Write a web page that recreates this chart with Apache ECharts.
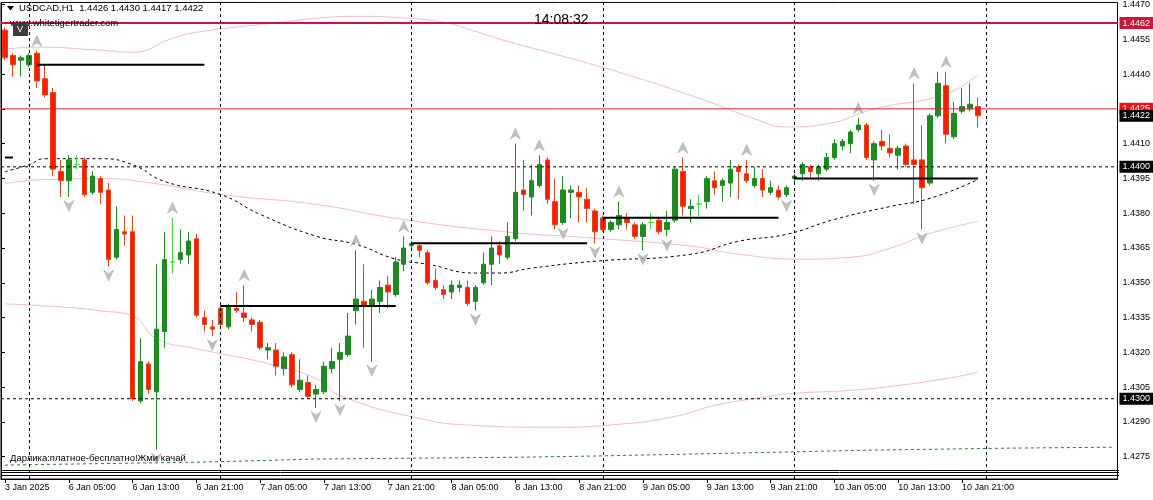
<!DOCTYPE html>
<html><head><meta charset="utf-8">
<script src="https://cdn.jsdelivr.net/npm/echarts@6/dist/echarts.min.js"></script>
<style>html,body{margin:0;padding:0;background:#fff;}#c{width:1153px;height:500px;}</style>
</head><body><div id="c"></div>
<script>
// ---- data (USDCAD H1, from 3 Jan 21:00 to 10 Jan 23:00) ----
const opens = [1.4459,1.4448,1.4446,1.4444,1.4449,1.4438,1.4432,1.4398,1.4394,1.4401,
1.4403,1.4389,1.4395,1.4390,1.4361,1.4372,1.4372,1.4299,1.4315,1.4303,
1.4329,1.4359,1.4360,1.4362,1.4369,1.4335,1.4331,1.4339,1.4331,1.4339,
1.4337,1.4334,1.4333,1.4321,1.4321,1.4313,1.4319,1.4304,1.4307,1.4302,
1.4303,1.4313,1.4317,1.4319,1.4338,1.4342,1.4340,1.4342,1.4349,1.4345,
1.4358,1.4366,1.4366,1.4363,1.4351,1.4347,1.4346,1.4348,1.4348,1.4342,
1.4350,1.4358,1.4366,1.4361,1.4369,1.4390,1.4387,1.4392,1.4403,1.4385,
1.4376,1.4389,1.4389,1.4386,1.4381,1.4378,1.4373,1.4375,1.4378,1.4375,
1.4370,1.4376,1.4377,1.4373,1.4377,1.4398,1.4382,1.4384,1.4385,1.4394,
1.4392,1.4393,1.4400,1.4397,1.4392,1.4395,1.4389,1.4390,1.4388,1.4395,
1.4397,1.4400,1.4397,1.4399,1.4404,1.4409,1.4410,1.4416,1.4418,1.4403,
1.4411,1.4408,1.4405,1.4409,1.4403,1.4403,1.4393,1.4422,1.4435,1.4413,
1.4424,1.4425,1.4426];
const highs = [1.4460,1.4449,1.4448,1.4449,1.4450,1.4444,1.4434,1.4403,1.4405,1.4405,
1.4404,1.4398,1.4396,1.4393,1.4383,1.4379,1.4379,1.4326,1.4316,1.4358,
1.4372,1.4378,1.4373,1.4372,1.4371,1.4338,1.4334,1.4340,1.4341,1.4346,
1.4349,1.4335,1.4334,1.4324,1.4324,1.4320,1.4320,1.4317,1.4310,1.4306,
1.4316,1.4322,1.4324,1.4337,1.4364,1.4358,1.4347,1.4351,1.4353,1.4361,
1.4370,1.4368,1.4367,1.4364,1.4356,1.4349,1.4351,1.4351,1.4351,1.4349,
1.4363,1.4370,1.4368,1.4376,1.4410,1.4403,1.4401,1.4405,1.4404,1.4395,
1.4396,1.4392,1.4392,1.4391,1.4382,1.4379,1.4377,1.4385,1.4380,1.4376,
1.4376,1.4380,1.4378,1.4381,1.4400,1.4404,1.4386,1.4388,1.4396,1.4398,
1.4395,1.4403,1.4401,1.4403,1.4400,1.4399,1.4394,1.4392,1.4392,1.4397,
1.4402,1.4401,1.4401,1.4406,1.4412,1.4412,1.4416,1.4421,1.4419,1.4411,
1.4416,1.4414,1.4409,1.4410,1.4436,1.4418,1.4423,1.4441,1.4441,1.4428,
1.4434,1.4436,1.4430];
const lows = [1.4446,1.4439,1.4439,1.4443,1.4434,1.4430,1.4396,1.4387,1.4387,1.4399,
1.4387,1.4388,1.4384,1.4357,1.4360,1.4366,1.4299,1.4298,1.4302,1.4278,
1.4322,1.4354,1.4358,1.4358,1.4335,1.4329,1.4327,1.4330,1.4330,1.4337,
1.4333,1.4329,1.4321,1.4317,1.4310,1.4310,1.4305,1.4303,1.4300,1.4296,
1.4302,1.4311,1.4299,1.4318,1.4332,1.4322,1.4316,1.4337,1.4339,1.4344,
1.4355,1.4365,1.4361,1.4349,1.4347,1.4343,1.4343,1.4346,1.4340,1.4338,
1.4349,1.4349,1.4358,1.4360,1.4368,1.4381,1.4379,1.4391,1.4384,1.4373,
1.4375,1.4378,1.4376,1.4376,1.4367,1.4372,1.4372,1.4373,1.4373,1.4369,
1.4364,1.4373,1.4371,1.4370,1.4376,1.4379,1.4376,1.4379,1.4382,1.4388,
1.4385,1.4387,1.4386,1.4393,1.4391,1.4387,1.4388,1.4386,1.4387,1.4393,
1.4394,1.4395,1.4394,1.4398,1.4403,1.4407,1.4406,1.4415,1.4403,1.4394,
1.4407,1.4404,1.4399,1.4400,1.4384,1.4373,1.4392,1.4421,1.4410,1.4412,
1.4423,1.4424,1.4417];
const closes = [1.4447,1.4444,1.4447,1.4448,1.4437,1.4431,1.4399,1.4394,1.4403,1.4401,
1.4388,1.4396,1.4389,1.4360,1.4373,1.4371,1.4300,1.4316,1.4304,1.4330,
1.4360,1.4359,1.4363,1.4368,1.4336,1.4332,1.4330,1.4332,1.4340,1.4338,
1.4335,1.4332,1.4322,1.4322,1.4314,1.4318,1.4306,1.4308,1.4301,1.4304,
1.4314,1.4316,1.4320,1.4327,1.4343,1.4340,1.4343,1.4348,1.4346,1.4359,
1.4365,1.4367,1.4364,1.4350,1.4348,1.4345,1.4349,1.4349,1.4341,1.4348,
1.4358,1.4365,1.4362,1.4370,1.4389,1.4388,1.4394,1.4401,1.4386,1.4375,
1.4390,1.4390,1.4387,1.4382,1.4372,1.4373,1.4376,1.4379,1.4376,1.4370,
1.4375,1.4376,1.4372,1.4376,1.4399,1.4383,1.4383,1.4384,1.4395,1.4391,
1.4394,1.4399,1.4398,1.4394,1.4395,1.4390,1.4391,1.4387,1.4391,1.4396,
1.4401,1.4398,1.4400,1.4404,1.4410,1.4411,1.4415,1.4418,1.4404,1.4410,
1.4409,1.4406,1.4408,1.4401,1.4401,1.4391,1.4422,1.4436,1.4414,1.4423,
1.4426,1.4427,1.4422];

// x-axis labels every 8 bars
const timeLabels = ['3 Jan 2025','6 Jan 05:00','6 Jan 13:00','6 Jan 21:00','7 Jan 05:00','7 Jan 13:00',
 '7 Jan 21:00','8 Jan 05:00','8 Jan 13:00','8 Jan 21:00','9 Jan 05:00','9 Jan 13:00','9 Jan 21:00',
 '10 Jan 05:00','10 Jan 13:00','10 Jan 21:00'];
const yTicks = [1.4275,1.4290,1.4305,1.4320,1.4335,1.4350,1.4365,1.4380,1.4395,1.4410,1.4425,1.4440,1.4455,1.4470];
const daySeparators = [3,27,51,75,99,123];       // bar index of each day start
// indicator lines [barIndex, price]
const bandUpper = [[0,1.44507],[4,1.44516],[12,1.44503],[16,1.44494],[21,1.44554],[24,1.44580],[32,1.44614],[39,1.44640],[44,1.44649],[49,1.44644],[55,1.44623],[59,1.44584],[63,1.44541],[69,1.44486],[74,1.44438],[79,1.44387],[84,1.44331],[89,1.44271],[94,1.44207],[98,1.44172],[103,1.44185],[109,1.44250],[118,1.44314],[122,1.44400]];
const bandMid = [[0,1.43928],[5,1.43945],[12,1.43949],[18,1.43932],[27,1.43881],[39,1.43838],[49,1.43778],[62,1.43722],[74,1.43692],[86,1.43658],[92,1.43623],[100,1.43602],[106,1.43610],[111,1.43649],[116,1.43713],[122,1.43765]];
const bandLower = [[0,1.43409],[7,1.43396],[12,1.43379],[16,1.43357],[19,1.43259],[24,1.43216],[33,1.43151],[39,1.43087],[42,1.43014],[52,1.42915],[59,1.42885],[68,1.42877],[77,1.42890],[84,1.42924],[89,1.42971],[94,1.43001],[99,1.43023],[106,1.43036],[112,1.43057],[118,1.43087],[122,1.43113]];
const maLine = [[0,1.43979],[3,1.44009],[5,1.44035],[12,1.44035],[16,1.44009],[20,1.43937],[27,1.43881],[32,1.43795],[39,1.43701],[44,1.43666],[49,1.43602],[53,1.43580],[59,1.43542],[62,1.43542],[66,1.43563],[74,1.43593],[86,1.43623],[92,1.43679],[98,1.43709],[104,1.43773],[111,1.43829],[116,1.43864],[122,1.43945]];
const longMa = [[0,1.42714],[25,1.42727],[39,1.42740],[65,1.42748],[74,1.42753],[91,1.42765],[108,1.42778],[126,1.42787],[139,1.42791]];
// horizontal level segments [startBar, endBar, price]
const levels = [[0,1,1.4404],[4,25,1.4444],[27,49,1.4340],[51,73,1.4367],[75,97,1.4378],[99,122,1.4395]];
const fractalUp = [4,21,30,44,50,64,67,77,85,93,107,114,118];
const fractalDown = [8,13,19,26,39,42,46,59,70,74,80,83,98,109,115];
// full-width price lines: [price, line colour, width, dash, label background]
const priceLines = [
  [1.4400,'#000000',1,'dashed','#000000'],
  [1.4300,'#000000',1,'dashed','#000000'],
  [1.4462,'#c8173d',2,'solid','#c8173d'],
  [1.4425,'#e0202c',1,'solid','#e8141c'],
  [1.4422,'rgba(0,0,0,0)',1,'solid','#000000']
];

const nCats = 140;
const categories = Array.from({length:nCats},(_,i)=>String(i));
const candles = opens.map((o,i)=>[o, closes[i], lows[i], highs[i]]);
const segData = [];
levels.forEach(l=>{segData.push([l[0],l[2]],[l[1],l[2]],[null,null]);});

const chart = echarts.init(document.getElementById('c'), null, {renderer:'canvas'});
const FONT = 'Liberation Sans';
const priceLineSeries = priceLines.map((pl,k)=>({
  type:'line',xAxisIndex:1,data:[[0,pl[0]],[1,pl[0]]],symbol:'none',silent:true,z:6+k,
  lineStyle:{color:pl[1],width:pl[2],type:pl[3]==='dashed'?[3,3]:'solid'},
  endLabel:{show:true,formatter:pl[0].toFixed(4),backgroundColor:pl[4],color:'#fff',padding:[2,3,1,3],fontSize:9,fontFamily:FONT,distance:2}
}));
const option = {
  animation:false,
  backgroundColor:'#fff',
  textStyle:{fontFamily:FONT},
  grid:{left:1,right:34,top:0,bottom:21,show:true,borderColor:'#000',borderWidth:1,backgroundColor:'#fff'},
  xAxis:[{type:'category',data:categories,boundaryGap:true,
    axisLine:{show:true,lineStyle:{color:'#000'}},
    axisTick:{show:true,alignWithLabel:true,length:4,interval:(i)=>i%8===0&&i<=120,lineStyle:{color:'#000'}},
    axisLabel:{interval:(i)=>i%8===0&&i<=120,formatter:(v,i)=>timeLabels[i/8]||'',align:'left',margin:4,fontSize:9,color:'#000',fontFamily:FONT},
    splitLine:{show:false}},
    {type:'value',min:0,max:1,show:false}],
  yAxis:{type:'value',position:'right',min:1.426539,max:1.447088,scale:true,
    axisLine:{show:true,lineStyle:{color:'#000'}},
    axisTick:{show:true,length:4,customValues:yTicks,lineStyle:{color:'#000'}},
    axisLabel:{customValues:yTicks,formatter:(v)=>v.toFixed(4),fontSize:9,color:'#000',margin:5,fontFamily:FONT},
    splitLine:{show:false}},
  series:[
    {type:'line',data:bandUpper,smooth:true,symbol:'none',lineStyle:{color:'#f5bcc6',width:1},z:1,silent:true},
    {type:'line',data:bandMid,smooth:true,symbol:'none',lineStyle:{color:'#f5bcc6',width:1},z:1,silent:true},
    {type:'line',data:bandLower,smooth:true,symbol:'none',lineStyle:{color:'#f5bcc6',width:1},z:1,silent:true},
    {type:'line',data:longMa,smooth:false,symbol:'none',lineStyle:{color:'#2f7d2f',width:1,type:[3,3]},z:1,silent:true},
    {type:'line',data:maLine,smooth:true,symbol:'none',lineStyle:{color:'#000',width:1,type:[3,3]},z:1,silent:true},
    {type:'candlestick',data:candles,barWidth:5,z:3,silent:true,
      itemStyle:{color:'#1f8a24',color0:'#ff1a00',borderColor:'#1f8a24',borderColor0:'#e0481c',borderColorDoji:'#3fd43f',borderWidth:1},
      markLine:{silent:true,symbol:['none','none'],animation:false,
        data:daySeparators.map(d=>({xAxis:String(d),lineStyle:{color:'#000',width:1,type:[3,3]},label:{show:false}}))}},
    {type:'line',data:segData,symbol:'none',connectNulls:false,lineStyle:{color:'#000',width:2},z:4,silent:true},
    {type:'scatter',data:fractalUp.map(i=>[i,highs[i]]),symbol:'path://M5,0 L10,11 L5,7.5 L0,11 Z',symbolSize:[10,11],symbolOffset:[0,-10],itemStyle:{color:'#b0b0b0',borderColor:'#9a9a9a',borderWidth:0.5},z:5,silent:true},
    {type:'scatter',data:fractalDown.map(i=>[i,lows[i]]),symbol:'path://M0,0 L5,3.5 L10,0 L5,11 Z',symbolSize:[10,11],symbolOffset:[0,9],itemStyle:{color:'#b0b0b0',borderColor:'#9a9a9a',borderWidth:0.5},z:5,silent:true},
    ...priceLineSeries
  ],
  graphic:[
    {type:'polygon',shape:{points:[[7,6],[14,6],[10.5,10.5]]},style:{fill:'#000'},z:10},
    {type:'text',left:19,top:3,style:{text:'USDCAD,H1  1.4426 1.4430 1.4417 1.4422',fontSize:9.5,fontFamily:FONT,fill:'#000'},z:10},
    {type:'text',left:10,top:18,style:{text:'www.whitetigertrader.com',fontSize:9.5,fontFamily:FONT,fill:'#000'},z:10},
    {type:'rect',shape:{x:13,y:23,width:15,height:13},style:{fill:'#3c3c3c'},z:10},
    {type:'text',left:17,top:25,style:{text:'V',fontSize:9,fontFamily:FONT,fill:'#fff'},z:11},
    {type:'text',left:534,top:13,style:{text:'14:08:32',fontSize:14,fontFamily:FONT,fill:'#000'},z:10},
    {type:'text',left:10,top:453,style:{text:'Дарлика:платное-бесплатно!Жми качай',fontSize:9.5,fontFamily:FONT,fill:'#000'},z:10},
    {type:'line',shape:{x1:1,y1:470.5,x2:1119,y2:470.5},style:{stroke:'#000',lineWidth:1},z:10},
    {type:'line',shape:{x1:1,y1:472.5,x2:1119,y2:472.5},style:{stroke:'#000',lineWidth:1},z:10},
    {type:'line',shape:{x1:1,y1:475.5,x2:1119,y2:475.5},style:{stroke:'#000',lineWidth:1},z:10}
  ]
};
chart.setOption(option);
</script></body></html>
